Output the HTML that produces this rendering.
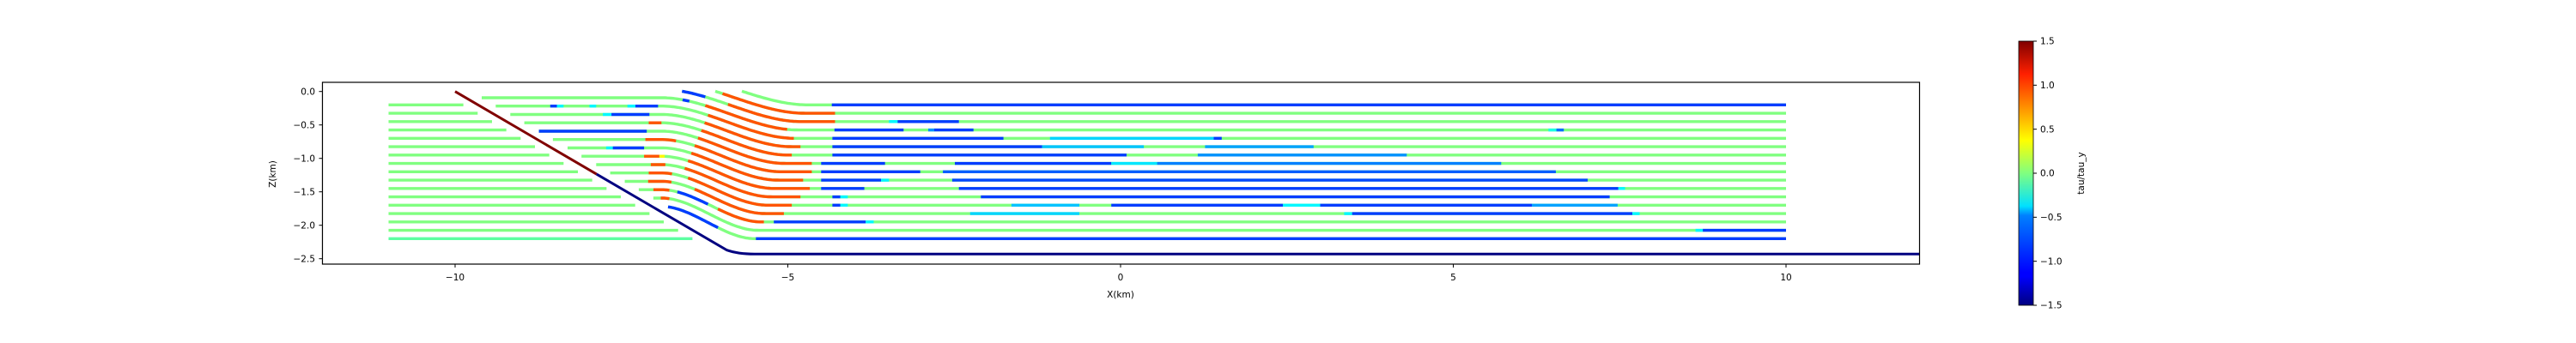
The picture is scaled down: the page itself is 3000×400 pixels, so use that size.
<!DOCTYPE html>
<html><head><meta charset="utf-8">
<style>
html,body{margin:0;padding:0;background:#fff;}
svg{display:block;font-family:"DejaVu Sans","Liberation Sans",sans-serif;}
</style></head>
<body>
<svg id="chart" width="3000" height="400" viewBox="0 0 3000 400" xmlns="http://www.w3.org/2000/svg">
  <defs>
    <clipPath id="plotclip"><rect x="375.5" y="96" width="1860" height="212"/></clipPath>
    <linearGradient id="jetgrad" x1="0" y1="1" x2="0" y2="0">
      <stop offset="0" stop-color="#000080"/><stop offset="0.11" stop-color="#0000ff"/>
      <stop offset="0.125" stop-color="#0000ff"/><stop offset="0.34" stop-color="#0080ff"/>
      <stop offset="0.375" stop-color="#00e0ff"/><stop offset="0.5" stop-color="#80ff80"/>
      <stop offset="0.625" stop-color="#ffff00"/><stop offset="0.66" stop-color="#ffe000"/>
      <stop offset="0.875" stop-color="#ff2000"/><stop offset="1" stop-color="#800000"/>
    </linearGradient>
  </defs>
  <g id="marks" clip-path="url(#plotclip)"></g>
  <rect x="375.5" y="96" width="1860" height="212" fill="none" stroke="#000" stroke-width="1.2"/>
  <g id="xticks"></g>
  <g id="yticks"></g>
  <text x="1305" y="347" font-size="10.5" text-anchor="middle">X(km)</text>
  <text x="0" y="0" font-size="10.5" text-anchor="middle" transform="translate(321,203) rotate(-90)">Z(km)</text>
  <rect x="2351" y="48" width="17" height="308" fill="url(#jetgrad)" stroke="#000" stroke-width="0.8"/>
  <g id="cbticks"></g>
  <text x="0" y="0" font-size="10.5" text-anchor="middle" transform="translate(2427,202) rotate(-90)">tau/tau_y</text>
</svg>
<script>
// ---- data ----
const rowLevels = [-0.2,-0.325,-0.45,-0.575,-0.7,-0.825,-0.95,-1.075,-1.2,-1.325,-1.45,-1.575,-1.7,-1.825,-1.95,-2.075,-2.2];
const foldDrop = 0.482;
const xTickValues = [-10,-5,0,5,10];
const xTickLabels = ["\u221210","\u22125","0","5","10"];
const yTickValues = [0,-0.5,-1,-1.5,-2,-2.5];
const yTickLabels = ["0.0","\u22120.5","\u22121.0","\u22121.5","\u22122.0","\u22122.5"];
const cbTickValues = [1.5,1,0.5,0,-0.5,-1,-1.5];
const cbTickLabels = ["1.5","1.0","0.5","0.0","\u22120.5","\u22121.0","\u22121.5"];
const rowSpans = [
 [[-4.34,10,-0.95]],
 [[-5.98,-4.29,0.88]],
 [[-6.61,-6.24,-0.95],[-5.9,-4.29,0.88],[-3.48,-3.35,-0.4],[-3.35,-2.43,-0.95]],
 [[-6.58,-6.48,-0.95],[-6.24,-5.01,0.88],[-4.3,-3.26,-0.95],[-2.89,-2.8,-0.7],[-2.8,-2.21,-0.95],[6.43,6.55,-0.3],[6.55,6.66,-0.8]],
 [[-8.57,-8.47,-0.95],[-8.47,-8.37,-0.4],[-7.98,-7.88,-0.4],[-7.41,-7.29,-0.4],[-7.29,-6.95,-0.95],[-6.2,-4.91,0.88],[-4.33,-1.76,-0.95],[-1.06,1.4,-0.5],[1.4,1.52,-0.95]],
 [[-7.78,-7.65,-0.4],[-7.65,-7.08,-0.95],[-6.25,-4.81,0.88],[-4.33,-1.18,-0.95],[-1.18,0.35,-0.55],[1.27,2.9,-0.65]],
 [[-7.09,-6.9,0.88],[-6.3,-4.94,0.88],[-4.33,0.09,-0.95],[1.16,4.3,-0.7]],
 [[-8.75,-7.12,-0.95],[-6.35,-4.64,0.88],[-4.5,-3.54,-0.95],[-2.49,-0.14,-0.95],[-0.14,0.55,-0.45],[0.55,5.72,-0.75]],
 [[-7.14,-6.68,0.88],[-6.4,-4.64,0.88],[-4.5,-3.01,-0.95],[-2.67,6.54,-0.85]],
 [[-7.73,-7.63,-0.4],[-7.63,-7.16,-0.95],[-6.45,-4.77,0.88],[-4.5,-3.6,-0.95],[-3.6,-3.48,-0.4],[-2.53,7.02,-0.92]],
 [[-7.16,-6.93,0.88],[-6.93,-6.85,0.4],[-6.5,-4.67,0.88],[-4.5,-3.85,-0.95],[-2.43,7.48,-0.95],[7.48,7.58,-0.4]],
 [[-7.06,-6.84,0.88],[-6.55,-4.81,0.88],[-4.33,-4.21,-0.95],[-4.21,-4.1,-0.4],[-2.1,7.35,-0.95]],
 [[-7.09,-6.74,0.88],[-6.5,-4.94,0.88],[-4.33,-4.21,-0.95],[-4.21,-4.1,-0.4],[-1.64,-0.62,-0.55],[-0.14,2.44,-0.95],[2.44,3.0,-0.4],[3.0,6.18,-0.95],[6.18,7.47,-0.65]],
 [[-7.1,-6.75,0.88],[-6.4,-5.06,0.88],[-2.26,-0.62,-0.5],[3.36,3.48,-0.4],[3.48,7.69,-0.95],[7.69,7.8,-0.4]],
 [[-7.02,-6.78,0.88],[-6.66,-6.2,-0.95],[-6.05,-5.36,0.88],[-5.21,-3.83,-0.95],[-3.83,-3.71,-0.4]],
 [[-6.91,-6.78,0.88],[8.64,8.75,-0.4],[8.75,10,-0.95]],
 [[-6.81,-6.05,-0.95],[-5.48,10,-0.95]]
];

// ---- scales ----
const X = x => 1305 + 77.5 * x;
const Y = z => 106.7 - 78 * z;
const NS = "http://www.w3.org/2000/svg";
function jet(v){
  let t = Math.max(0, Math.min(1, (v + 1.5) / 3));
  const c = a => Math.round(255 * Math.max(0, Math.min(1, a)));
  return "rgb(" + c(1.5 - Math.abs(4*t-3)) + "," + c(1.5 - Math.abs(4*t-2)) + "," + c(1.5 - Math.abs(4*t-1)) + ")";
}
const faultX = z => -10 + (-z) / 0.581;
const ss = t => { t = Math.max(0, Math.min(1, t)); return t*t*(3-2*t); };
function streamZ(i, x){
  const xs = -6.9, xe = -4.7 - 0.05 * i;
  return rowLevels[i] + foldDrop * (1 - ss((x - xs) / (xe - xs)));
}
function pathFor(i, x0, x1){
  let d = "";
  const n = Math.max(2, Math.ceil((x1 - x0) / 0.03));
  for (let k = 0; k <= n; k++){
    const x = x0 + (x1 - x0) * k / n;
    d += (k ? "L" : "M") + X(x).toFixed(1) + "," + Y(streamZ(i, x)).toFixed(1);
  }
  return d;
}
const marks = document.getElementById("marks");

// footwall rows
rowLevels.forEach((z, i) => {
  const l = document.createElementNS(NS, "line");
  l.setAttribute("x1", X(-11)); l.setAttribute("x2", X(faultX(z) - 0.22));
  l.setAttribute("y1", Y(z)); l.setAttribute("y2", Y(z));
  l.setAttribute("stroke", jet(i === 16 ? -0.1 : 0)); l.setAttribute("stroke-width", 3.4);
  
  
  marks.appendChild(l);
});

// hanging-wall / right streamlines
rowLevels.forEach((z, i) => {
  let xStart = -11;
  for (let x = -11; x < 10; x += 0.01){
    const zz = streamZ(i, x);
    if (zz <= 0.005 && x >= faultX(zz) + 0.23){ xStart = x; break; }
  }
  const g = document.createElementNS(NS, "g");
  
  
  const base = document.createElementNS(NS, "path");
  base.setAttribute("d", pathFor(i, xStart, 10));
  base.setAttribute("fill", "none"); base.setAttribute("stroke", jet(0)); base.setAttribute("stroke-width", 3.4);
  
  
  g.appendChild(base);
  rowSpans[i].forEach(s => {
    const a = Math.max(s[0], xStart), b = Math.min(s[1], 10);
    if (b <= a) return;
    const p = document.createElementNS(NS, "path");
    p.setAttribute("d", pathFor(i, a, b));
    p.setAttribute("fill", "none"); p.setAttribute("stroke", jet(s[2])); p.setAttribute("stroke-width", 3.4);
    
    
    g.appendChild(p);
  });
  marks.appendChild(g);
});

// fault line
const fx1 = -5.92, fz1 = -2.37, flatZ = -2.43, fRed = -1.235;
function addFault(d, col, name){
  const p = document.createElementNS(NS, "path");
  p.setAttribute("d", d); p.setAttribute("fill", "none");
  p.setAttribute("stroke", col); p.setAttribute("stroke-width", 3);
  
  
  marks.appendChild(p);
}
addFault("M" + X(-10) + "," + Y(0) + "L" + X(faultX(fRed)) + "," + Y(fRed), "#800000", "fault-ramp-upper");
addFault("M" + X(faultX(fRed)) + "," + Y(fRed) + "L" + X(fx1) + "," + Y(fz1) +
  "Q" + X(-5.75) + "," + Y(flatZ) + " " + X(-5.5) + "," + Y(flatZ) + "L" + X(12.5) + "," + Y(flatZ), "#000080", "fault-ramp-lower-and-flat");

// axes ticks
const xt = document.getElementById("xticks");
xTickValues.forEach((v, k) => {
  const l = document.createElementNS(NS, "line");
  l.setAttribute("x1", X(v)); l.setAttribute("x2", X(v)); l.setAttribute("y1", 308); l.setAttribute("y2", 312);
  l.setAttribute("stroke", "#000");
  
  
  xt.appendChild(l);
  const t = document.createElementNS(NS, "text");
  t.setAttribute("x", X(v)); t.setAttribute("y", 327); t.setAttribute("font-size", "10.5"); t.setAttribute("text-anchor", "middle");
  t.textContent = xTickLabels[k];
  
  
  xt.appendChild(t);
});
const yt = document.getElementById("yticks");
yTickValues.forEach((v, k) => {
  const l = document.createElementNS(NS, "line");
  l.setAttribute("x1", 371.5); l.setAttribute("x2", 375.5); l.setAttribute("y1", Y(v)); l.setAttribute("y2", Y(v));
  l.setAttribute("stroke", "#000");
  
  
  yt.appendChild(l);
  const t = document.createElementNS(NS, "text");
  t.setAttribute("x", 367); t.setAttribute("y", Y(v) + 3.7); t.setAttribute("font-size", "10.5"); t.setAttribute("text-anchor", "end");
  t.textContent = yTickLabels[k];
  
  
  yt.appendChild(t);
});
const cb = document.getElementById("cbticks");
const CY = v => 356 - (v + 1.5) / 3 * 308;
cbTickValues.forEach((v, k) => {
  const l = document.createElementNS(NS, "line");
  l.setAttribute("x1", 2368); l.setAttribute("x2", 2372); l.setAttribute("y1", CY(v)); l.setAttribute("y2", CY(v));
  l.setAttribute("stroke", "#000");
  
  
  cb.appendChild(l);
  const t = document.createElementNS(NS, "text");
  t.setAttribute("x", 2376); t.setAttribute("y", CY(v) + 3.7); t.setAttribute("font-size", "10.5");
  t.textContent = cbTickLabels[k];
  
  
  cb.appendChild(t);
});
</script>
</body></html>
